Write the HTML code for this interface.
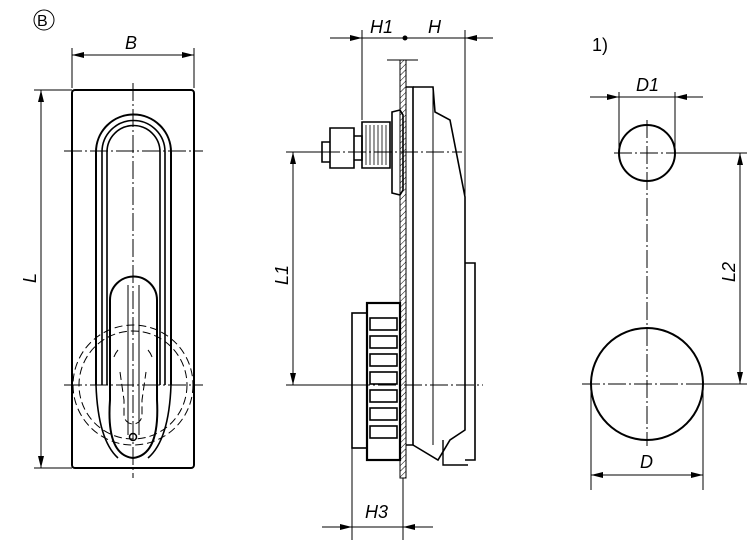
<!DOCTYPE html>
<html><head><style>body{margin:0;background:#fff}svg{display:block}text{font-family:"Liberation Sans",sans-serif;font-style:italic;font-size:18px;fill:#000}</style></head><body>
<svg width="750" height="552" viewBox="0 0 750 552" xmlns="http://www.w3.org/2000/svg">
<defs>
<marker id="a" viewBox="0 0 12 6" refX="12" refY="3" markerWidth="12" markerHeight="6" orient="auto-start-reverse" markerUnits="userSpaceOnUse"><path d="M0,0L12,3L0,6z"/></marker>
<pattern id="h" width="4" height="4" patternUnits="userSpaceOnUse" patternTransform="rotate(45)"><line x1="0" y1="0" x2="0" y2="4" stroke="#000" stroke-width="1"/></pattern>
</defs>
<g fill="none" stroke="#000" stroke-width="1">
<circle cx="44" cy="20" r="10"/>
<line x1="72" y1="48" x2="72" y2="88"/><line x1="194" y1="48" x2="194" y2="88"/>
<line x1="72" y1="55" x2="194" y2="55" marker-start="url(#a)" marker-end="url(#a)"/>
<line x1="34" y1="90" x2="72" y2="90"/><line x1="34" y1="468" x2="72" y2="468"/>
<line x1="41" y1="90" x2="41" y2="468" marker-start="url(#a)" marker-end="url(#a)"/>
<rect x="72" y="90" width="122" height="378" rx="3" stroke-width="2"/>
<path d="M96,385 V152 A37.5,37.5 0 0 1 171,152 V385" stroke-width="2"/>
<path d="M102,385 V152 A31.5,31.5 0 0 1 165,152 V385" stroke-width="1.6"/>
<path d="M107,385 V152 A26.5,26.5 0 0 1 160,152 V385" stroke-width="1.6"/>
<path d="M110,300 A23,23 0 0 1 157,300 V400 Q160,455 133,458 Q106,455 110,400 Z" stroke-width="2"/>
<path d="M96,385 Q98,440 118,458 M171,385 Q169,440 148,458" stroke-width="1.6"/>
<line x1="128" y1="285" x2="128" y2="435"/><line x1="139" y1="285" x2="139" y2="435"/>
<circle cx="133" cy="437" r="3.5" stroke-width="1.5"/>
<g stroke-dasharray="8,4"><circle cx="133" cy="385" r="60"/><circle cx="133" cy="385" r="54"/>
<path d="M118,350 A24,24 0 0 0 113,360 M148,350 A24,24 0 0 1 153,360"/>
<path d="M120,372 L124,400 V415 A9,9 0 0 0 142,415 V400 L146,372"/></g>
<g stroke-dasharray="18,3,2,3"><line x1="133" y1="83" x2="133" y2="478"/>
<line x1="64" y1="151" x2="203" y2="151"/><line x1="64" y1="385" x2="203" y2="385"/></g>
<line x1="362" y1="30" x2="362" y2="120"/><line x1="465" y1="30" x2="465" y2="200"/>
<line x1="330" y1="38" x2="362" y2="38" marker-end="url(#a)"/>
<line x1="362" y1="38" x2="493" y2="38"/>
<line x1="493" y1="38" x2="465" y2="38" marker-end="url(#a)"/>
<circle cx="405" cy="38" r="2" fill="#000"/>
<rect x="400" y="60" width="6" height="418" fill="url(#h)"/>
<line x1="387" y1="60" x2="418" y2="60"/>
<path d="M406,87 H413 V445 H406" stroke-width="1.6"/>
<path d="M413,87 H433 L435,112 L450,120 L465,197 V430 L450,440 L438,460 L413,445" stroke-width="1.6"/>
<line x1="433" y1="87" x2="433" y2="445"/>
<path d="M465,263 H475 V460 H465" stroke-width="1.6"/>
<path d="M443,440 V465 H468" stroke-width="1.4"/>
<path d="M362,122 H390 V168 H362 Z" stroke-width="1.6"/>
<g stroke-width="0.8"><path d="M366,125 V165 M370,125 V165 M374,125 V165 M378,125 V165 M382,125 V165 M386,125 V165"/></g>
<path d="M392,112 L400,110 L403,115 V190 L400,195 L392,193 Z" stroke-width="1.6"/>
<path d="M322,142 H330 V162 H322 Z M330,128 H354 V168 H330 Z M354,136 H362 V160 H354 Z" stroke-width="1.6"/>
<rect x="352" y="313" width="15" height="135" stroke-width="1.6"/>
<rect x="367" y="303" width="33" height="157" stroke-width="2.2"/>
<g stroke-width="1.6"><rect x="370" y="318" width="27" height="12"/><rect x="370" y="336" width="27" height="12"/><rect x="370" y="354" width="27" height="12"/><rect x="370" y="372" width="27" height="12"/><rect x="370" y="390" width="27" height="12"/><rect x="370" y="408" width="27" height="12"/><rect x="370" y="426" width="27" height="12"/></g>
<line x1="352" y1="448" x2="352" y2="540"/><line x1="403" y1="478" x2="403" y2="540"/>
<line x1="322" y1="527" x2="352" y2="527" marker-end="url(#a)"/>
<line x1="352" y1="527" x2="433" y2="527"/>
<line x1="433" y1="527" x2="403" y2="527" marker-end="url(#a)"/>
<line x1="286" y1="152" x2="322" y2="152"/><line x1="286" y1="385" x2="352" y2="385"/>
<line x1="293" y1="152" x2="293" y2="385" marker-start="url(#a)" marker-end="url(#a)"/>
<g stroke-dasharray="18,3,2,3"><line x1="322" y1="152" x2="462" y2="152"/><line x1="352" y1="385" x2="483" y2="385"/></g>
<circle cx="647" cy="153" r="28" stroke-width="2"/>
<circle cx="647" cy="384" r="56" stroke-width="2"/>
<g stroke-dasharray="18,3,2,3"><line x1="647" y1="120" x2="647" y2="446"/><line x1="614" y1="153" x2="675" y2="153"/><line x1="582" y1="384" x2="703" y2="384"/></g>
<line x1="619" y1="92" x2="619" y2="153"/><line x1="675" y1="92" x2="675" y2="153"/>
<line x1="590" y1="97" x2="619" y2="97" marker-end="url(#a)"/>
<line x1="619" y1="97" x2="703" y2="97"/>
<line x1="703" y1="97" x2="675" y2="97" marker-end="url(#a)"/>
<line x1="675" y1="153" x2="747" y2="153"/><line x1="703" y1="384" x2="747" y2="384"/>
<line x1="740" y1="153" x2="740" y2="384" marker-start="url(#a)" marker-end="url(#a)"/>
<line x1="591" y1="384" x2="591" y2="490"/><line x1="703" y1="384" x2="703" y2="490"/>
<line x1="591" y1="475" x2="703" y2="475" marker-start="url(#a)" marker-end="url(#a)"/>
</g>
<text x="37" y="26" style="font-style:normal;font-size:16px">B</text>
<text x="125" y="49">B</text>
<text transform="translate(36,283) rotate(-90)">L</text>
<text x="370" y="33">H1</text>
<text x="428" y="33">H</text>
<text transform="translate(288,285) rotate(-90)">L1</text>
<text x="365" y="518">H3</text>
<text x="592" y="51" style="font-style:normal">1)</text>
<text x="636" y="91">D1</text>
<text transform="translate(735,282) rotate(-90)">L2</text>
<text x="640" y="468">D</text>
</svg>
</body></html>
